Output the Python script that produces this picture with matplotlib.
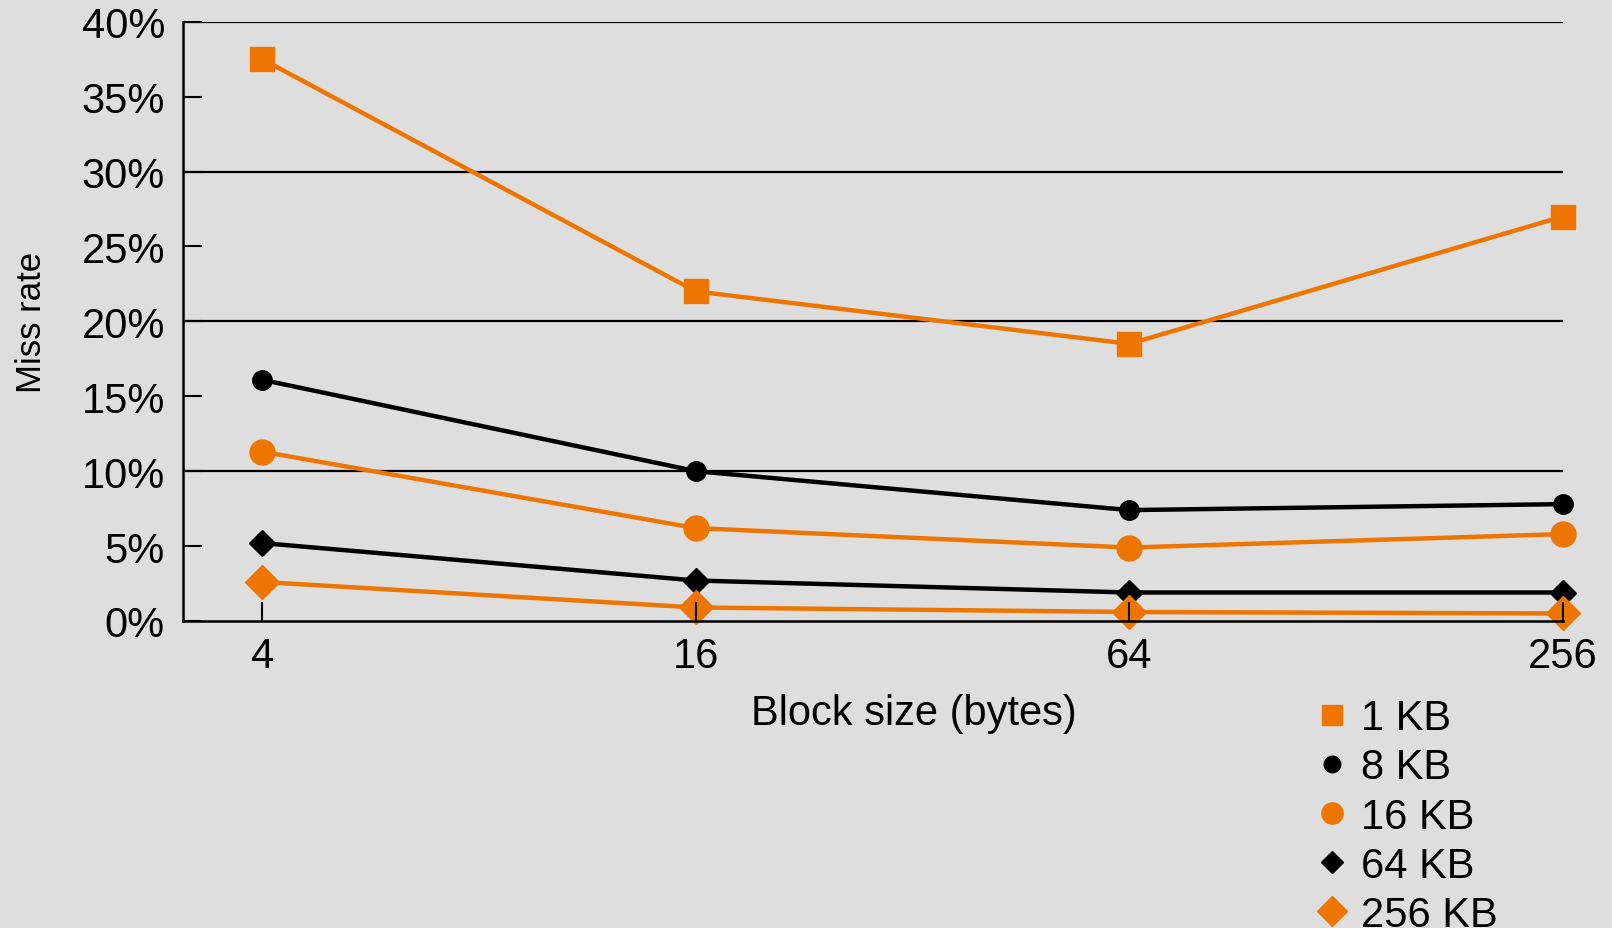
import numpy as np
import matplotlib
matplotlib.use("Agg")
import matplotlib.pyplot as plt
from matplotlib.lines import Line2D

plt.rcParams.update({"font.family": ["Liberation Sans", "DejaVu Sans"]})

ORANGE = "#EE7600"
BG = "#DEDEDE"

block_sizes = ["4", "16", "64", "256"]
cache_labels = ["1 KB", "8 KB", "16 KB", "64 KB", "256 KB"]
miss_1kb = [37.5, 22.0, 18.5, 27.0]
miss_8kb = [16.1, 10.0, 7.4, 7.8]
miss_16kb = [11.3, 6.2, 4.9, 5.8]
miss_64kb = [5.2, 2.7, 1.9, 1.9]
miss_256kb = [2.6, 0.9, 0.6, 0.5]

series = [miss_1kb, miss_8kb, miss_16kb, miss_64kb, miss_256kb]
styles = [
    dict(color=ORANGE, marker="s", ms=17),
    dict(color="black", marker="o", ms=14),
    dict(color=ORANGE, marker="o", ms=18),
    dict(color="black", marker="D", ms=13.5),
    dict(color=ORANGE, marker="D", ms=17.5),
]

fig = plt.figure(figsize=(16.12, 9.29), dpi=100, facecolor=BG)
ax = fig.add_axes([0.1135, 0.3305, 0.856, 0.645])
ax.set_facecolor(BG)

x = np.arange(len(block_sizes))
for vals, st in zip(series, styles):
    ax.plot(x, vals, lw=3.2, color=st["color"], marker=st["marker"],
            ms=st["ms"], mec=st["color"], clip_on=False, zorder=3)

# horizontal rules every 10%
for g in [10, 20, 30, 40]:
    ax.axhline(g, color="black", lw=1.6, zorder=2)

ax.set_xlim(-0.183, 3)
ax.set_ylim(0, 40)
ax.set_xticks(x, block_sizes)
ax.set_yticks(np.arange(0, 41, 5), [f"{v}%" for v in range(0, 41, 5)])
ax.tick_params(axis="both", direction="in", length=13.5, width=1.5,
               labelsize=30, color="black", zorder=5)
ax.tick_params(axis="y", pad=13)
ax.tick_params(axis="x", pad=11)
for s in ["top", "right"]:
    ax.spines[s].set_visible(False)
for s in ["left", "bottom"]:
    ax.spines[s].set_linewidth(1.8)
    ax.spines[s].set_zorder(5)
ax.xaxis.set_zorder(5)
ax.yaxis.set_zorder(5)

ax.set_xlabel("Block size (bytes)", fontsize=30, labelpad=12, x=0.53)
ax.set_ylabel("Miss rate", fontsize=25, labelpad=24)

handles = [Line2D([], [], ls="none", color=st["color"], marker=st["marker"],
                  ms=st["ms"] * 0.85, mec=st["color"]) for st in styles]
fig.legend(handles, cache_labels, loc="upper left",
           bbox_to_anchor=(0.803, 0.2697), frameon=False, fontsize=30,
           handlelength=0.8, handletextpad=0.3, labelspacing=0.22,
           borderpad=0)

fig.savefig("out.png", dpi=100, facecolor=BG)
